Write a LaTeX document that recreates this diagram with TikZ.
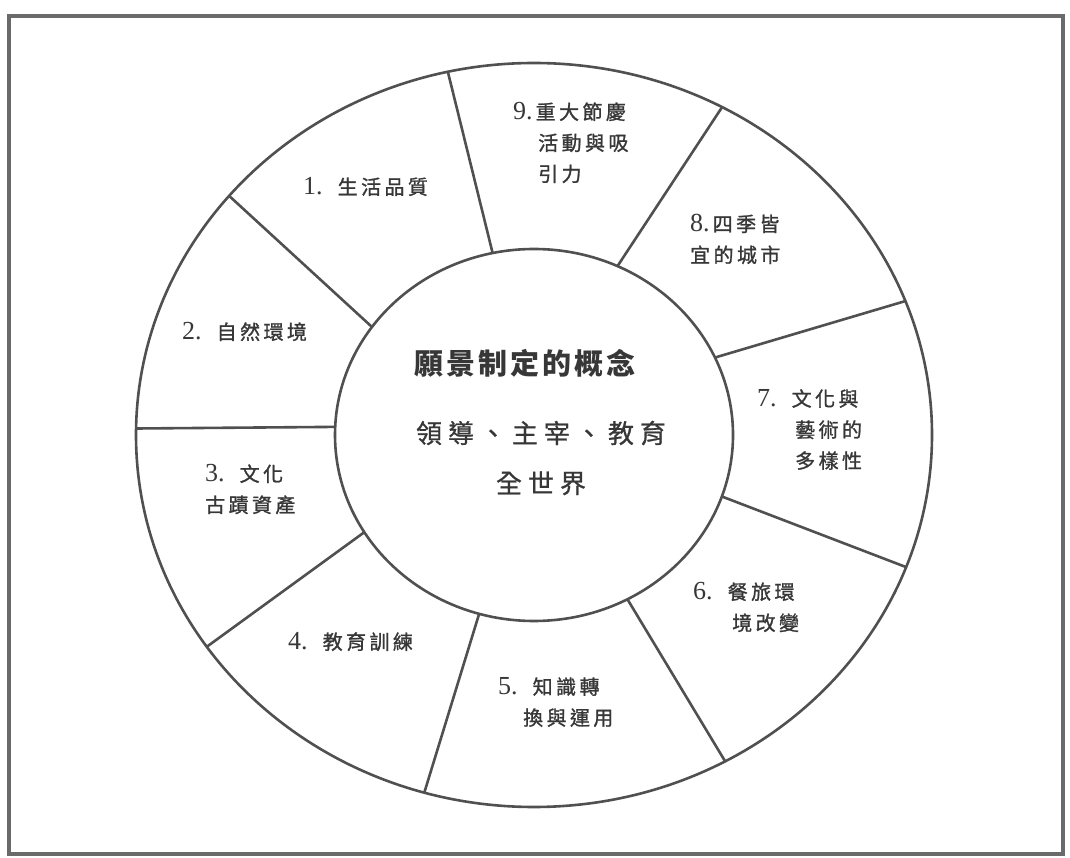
\documentclass[tikz,border=0pt]{standalone}
\usepackage{fontspec}
\setmainfont{Liberation Serif}
\newfontfamily\lbfont[LetterSpace=17,FakeBold=1.2]{Noto Sans CJK TC}
\newfontfamily\titlefont[LetterSpace=10]{Noto Sans CJK TC}
\newfontfamily\subfont[LetterSpace=23,FakeBold=0.8]{Noto Sans CJK TC}
\newcommand\lbnum[1]{{\fontsize{26}{31}\selectfont\rmfamily #1}}
\definecolor{linegray}{RGB}{80,80,80}
\definecolor{textgray}{RGB}{55,55,55}
\begin{document}
\begin{tikzpicture}[x=1pt,y=1pt,
    ring/.style={draw=linegray,line width=2.6pt},
    seg/.style={anchor=north west,inner sep=0pt,align=left,text=textgray,
        font=\fontsize{20}{31}\selectfont\lbfont}]
    \useasboundingbox (0,0) rectangle (1070,857);
    \draw[line width=4pt,draw=linegray!85] (9,3) rectangle (1063,841);

    \begin{scope}[shift={(534,422)}]
        \draw[ring] (0,0) ellipse [x radius=398,y radius=372];
        \draw[ring] (0,0) ellipse [x radius=199,y radius=186];
        \foreach \a/\b in {102/102.5,144.5/140,177.5/179,211.5/214.7,254/254,
                298/298.7,340.7/339.2,24.6/21.1,65.2/61.8}
            \draw[ring] (\a:199 and 186) -- (\b:398 and 372);

        \node[text=textgray,font=\fontsize{29}{36}\selectfont\titlefont\bfseries]
            (vision) at (-9,72) {願景制定的概念};
        \node[text=textgray,align=center,font=\fontsize{26}{50}\selectfont\subfont]
            (world) at (7,-23) {領導、主宰、教育\\全世界};

        \node[seg] (life) at (-231,258) {\lbnum{1.}\hspace{15pt}生活品質};
        \node[seg] (nature) at (-352,113) {\lbnum{2.}\hspace{15pt}自然環境};
        \node[seg] (heritage) at (-329,-29) {\lbnum{3.}\hspace{15pt}文化\\古蹟資產};
        \node[seg] (training) at (-246,-197) {\lbnum{4.}\hspace{15pt}教育訓練};
        \node[seg] (knowledge) at (-36,-242) {\lbnum{5.}\hspace{15pt}知識轉\\\hspace*{25pt}換與運用};
        \node[seg] (dining) at (159,-147) {\lbnum{6.}\hspace{15pt}餐旅環\\\hspace*{39pt}境改變};
        \node[seg] (arts) at (223,46) {\lbnum{7.}\hspace{15pt}文化與\\\hspace*{38pt}藝術的\\\hspace*{38pt}多樣性};
        \node[seg] (seasons) at (156,221) {\lbnum{8.}\hspace{3pt}四季皆\\宜的城市};
        \node[seg] (events) at (-21,333) {\lbnum{9.}\hspace{3pt}重大節慶\\\hspace*{25pt}活動與吸\\\hspace*{25pt}引力};
    \end{scope}
\end{tikzpicture}
\end{document}
